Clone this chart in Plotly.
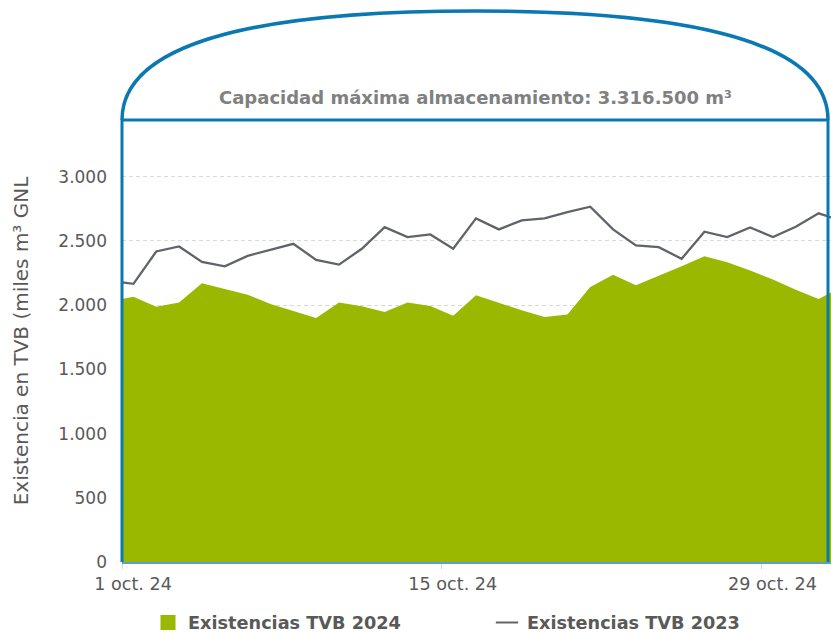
import plotly.graph_objects as go
import pandas as pd

# ---- data (daily, plotted at midday) ----
dates = pd.date_range("2024-09-30 12:00", "2024-11-01 12:00", freq="D")

tvb_2024 = [2030, 2066, 1988, 2020, 2170, 2127, 2082, 2009, 1955, 1900,
            2020, 1991, 1947, 2020, 1994, 1918, 2077, 2017, 1960, 1908,
            1928, 2142, 2236, 2155, 2228, 2303, 2381, 2334, 2270, 2199,
            2121, 2048, 2142]

tvb_2023 = [2190, 2166, 2418, 2457, 2337, 2303, 2384, 2431, 2478, 2353,
            2316, 2439, 2608, 2530, 2551, 2439, 2676, 2590, 2660, 2676,
            2725, 2767, 2590, 2465, 2452, 2361, 2572, 2530, 2605, 2530,
            2611, 2715, 2657]

tick_vals = ["2024-10-01", "2024-10-15", "2024-10-29"]
tick_text = ["1 oct. 24", "15 oct. 24", "29 oct. 24"]
y_ticks = [0, 500, 1000, 1500, 2000, 2500, 3000]

name_2024 = "Existencias TVB 2024"
name_2023 = "Existencias TVB 2023"
capacity_text = "Capacidad máxima almacenamiento: 3.316.500 m³"
y_title = "Existencia en TVB (miles m³ GNL"

# ---- style ----
GREEN = "#9bb800"
GREY_LINE = "#606469"
TANK = "#0a78b2"
TEXT = "#595959"
FONT = "DejaVu Sans"

W, H = 831, 633
ML, MR, MT, MB = 122, 0, 120, 71
PW, PH = W - ML - MR, H - MT - MB


def px(x):
    return (x - ML) / PW


def py(y):
    return (H - MB - y) / PH


fig = go.Figure()

fig.add_trace(go.Scatter(
    x=dates, y=tvb_2024, mode="lines", fill="tozeroy",
    line=dict(width=0, color=GREEN), fillcolor=GREEN,
    name=name_2024, showlegend=False, hoverinfo="skip"))

fig.add_trace(go.Scatter(
    x=dates, y=tvb_2023, mode="lines",
    line=dict(width=2.3, color=GREY_LINE),
    name=name_2023, showlegend=False, hoverinfo="skip"))

# legend entries
fig.add_trace(go.Scatter(
    x=[None], y=[None], mode="markers", name=name_2024,
    marker=dict(symbol="square", size=15, color=GREEN)))
fig.add_trace(go.Scatter(
    x=[None], y=[None], mode="markers", name=name_2023,
    marker=dict(symbol="line-ew", size=17, line=dict(width=2, color=GREY_LINE))))

# ---- tank outline ----
xl, xr, ytop, yarc = 122, 828, 120, 11
xm = (xl + xr) / 2
arc = (f"M {px(xl)},{py(ytop)} "
       f"C {px(xl)},{py(45)} {px(250)},{py(yarc)} {px(xm)},{py(yarc)} "
       f"C {px(xr - 128)},{py(yarc)} {px(xr)},{py(45)} {px(xr)},{py(ytop)}")
shapes = [
    dict(type="path", path=arc, xref="paper", yref="paper",
         line=dict(color=TANK, width=3.5), layer="above"),
    dict(type="line", xref="paper", yref="paper", x0=px(xl), x1=px(xr),
         y0=1, y1=1, line=dict(color=TANK, width=3), layer="above"),
    dict(type="line", xref="paper", yref="paper", x0=px(xl), x1=px(xl),
         y0=0, y1=1, line=dict(color=TANK, width=3), layer="above"),
    dict(type="line", xref="paper", yref="paper", x0=px(xr), x1=px(xr),
         y0=0, y1=1, line=dict(color=TANK, width=3), layer="above"),
]

fig.update_layout(
    width=W, height=H,
    margin=dict(l=ML, r=MR, t=MT, b=MB, pad=0, autoexpand=False),
    paper_bgcolor="white", plot_bgcolor="white",
    separators=",.",
    font=dict(family=FONT, color=TEXT),
    shapes=shapes,
    annotations=[dict(
        text=capacity_text, xref="paper", yref="paper",
        x=px(475), y=py(98), xanchor="center", yanchor="middle",
        showarrow=False,
        font=dict(family=FONT, size=18, color="#808080", weight="bold"))],
    legend=dict(
        orientation="h", x=px(148), y=py(623), xanchor="left", yanchor="middle",
        font=dict(family=FONT, size=17.7, color=TEXT, weight="bold"),
        entrywidth=294, entrywidthmode="pixels",
        bgcolor="rgba(0,0,0,0)", itemclick=False, itemdoubleclick=False),
    xaxis=dict(
        type="date", range=["2024-10-01 00:00", "2024-11-01 01:00"],
        tickvals=tick_vals, ticktext=tick_text,
        ticks="outside", ticklen=5, tickcolor="#ccd6eb", tickwidth=1,
        ticklabelshift=11, ticklabelstandoff=0,
        tickfont=dict(family=FONT, size=17.6, color=TEXT),
        showgrid=False, zeroline=False,
        showline=True, linecolor="#5b9fd0", linewidth=1.5,
        fixedrange=True),
    yaxis=dict(
        range=[0, 3442], tickvals=y_ticks, tickformat=",d",
        tickfont=dict(family=FONT, size=17, color=TEXT),
        ticks="", ticklabelstandoff=14,
        showgrid=True, gridcolor="#d9d9d9", griddash="4px,3px", gridwidth=1,
        zeroline=False, showline=False,
        title=dict(text=y_title, font=dict(family=FONT, size=20, color=TEXT),
                   standoff=24),
        automargin=False, fixedrange=True),
)

fig.write_html("out.html", config={"displayModeBar": False, "staticPlot": True})
